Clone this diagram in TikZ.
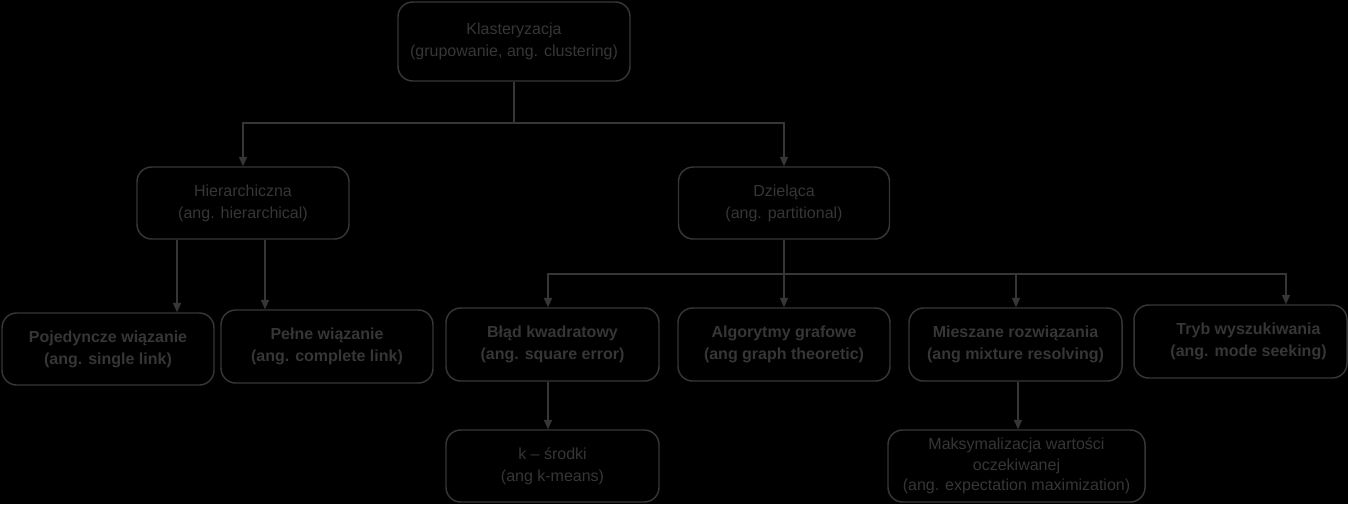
\documentclass[tikz,border=0pt]{standalone}
\usepackage{fontspec}
\setmainfont{Liberation Sans}
\usetikzlibrary{arrows.meta}
\definecolor{ink}{HTML}{363636}
\begin{document}
\begin{tikzpicture}[x=0.75pt,y=-0.75pt,
  box/.style={draw=ink,line width=1.1pt,rounded corners=11pt,text=ink,align=center,inner sep=0pt,font=\fontsize{12}{16.5}\selectfont},
  bbox/.style={box,font=\fontsize{12}{16.5}\selectfont\bfseries},
  arr/.style={draw=ink,line width=1.1pt,-{Triangle[length=7pt,width=6pt]}},
  ln/.style={draw=ink,line width=1.1pt}]
\fill[black] (0,0) rectangle (1348,504);
\useasboundingbox (0,0) rectangle (1348,504);
\node[box,minimum width=174pt,minimum height=59.25pt] (top) at (514,41.5) {Klasteryzacja\\(grupowanie, ang. clustering)};
\node[box,minimum width=159pt,minimum height=54pt] (hier) at (243,203) {Hierarchiczna\\(ang. hierarchical)};
\node[box,minimum width=158.25pt,minimum height=54pt] (dziel) at (784,203) {Dzieląca\\(ang. partitional)};
\node[bbox,minimum width=159pt,minimum height=54pt] (poj) at (108,349) {Pojedyncze wiązanie\\(ang. single link)};
\node[bbox,minimum width=159pt,minimum height=54.75pt] (pel) at (327,346.5) {Pełne wiązanie\\(ang. complete link)};
\node[bbox,minimum width=159.75pt,minimum height=54.75pt] (blad) at (552.5,344.5) {Błąd kwadratowy\\(ang. square error)};
\node[bbox,minimum width=159pt,minimum height=54.75pt] (alg) at (784,344.5) {Algorytmy grafowe\\(ang graph theoretic)};
\node[bbox,minimum width=159.75pt,minimum height=54.75pt] (mie) at (1015.5,344.5) {Mieszane rozwiązania\\(ang mixture resolving)};
\node[bbox,minimum width=159.75pt,minimum height=54.75pt] (tryb) at (1240.5,341.5) {\hspace*{12pt}Tryb wyszukiwania\\\hspace*{12pt}(ang. mode seeking)};
\node[box,minimum width=159.75pt,minimum height=54pt] (km) at (552.5,466) {k – środki\\(ang k-means)};
\node[box,minimum width=192.75pt,minimum height=54pt,font=\fontsize{12}{15.5}\selectfont] (maks) at (1016.5,466) {Maksymalizacja wartości\\oczekiwanej\\(ang. expectation maximization)};
% top level
\coordinate (j1) at (514,123);
\draw[ln] (top.south) -- (j1);
\draw[arr] (j1) -| (hier.north);
\draw[arr] (j1) -| (dziel.north);
% hierarchical
\coordinate (h1) at (177,0);
\coordinate (h2) at (265,0);
\draw[arr] (hier.south -| h1) -- (poj.north -| h1);
\draw[arr] (hier.south -| h2) -- (pel.north -| h2);
% partitional
\coordinate (j2) at (784,274);
\coordinate (p1) at (548,0);
\coordinate (p3) at (1016,0);
\coordinate (p4) at (1286,0);
\draw[ln] (dziel.south) -- (j2);
\draw[arr] (j2) -| (blad.north -| p1);
\draw[arr] (j2) -- (alg.north);
\draw[arr] (j2) -| (mie.north -| p3);
\draw[arr] (j2) -| (tryb.north -| p4);
\draw[arr] (blad.south -| p1) -- (km.north -| p1);
\coordinate (p5) at (1018,0);
\draw[arr] (mie.south -| p5) -- (maks.north -| p5);
\end{tikzpicture}
\end{document}
